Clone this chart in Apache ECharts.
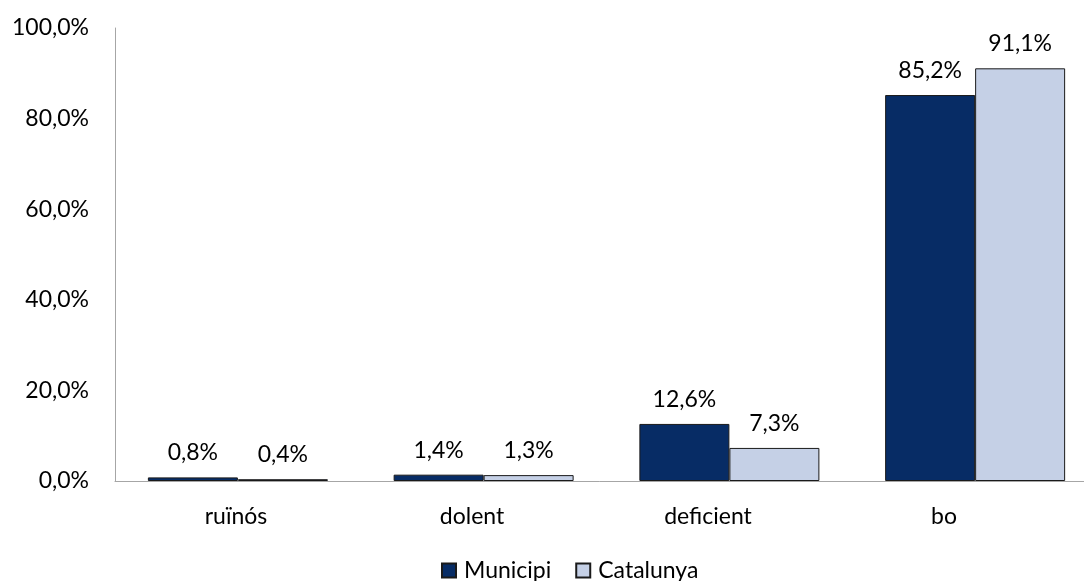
<!DOCTYPE html>
<html>
<head>
<meta charset="utf-8">
<script src="https://cdn.jsdelivr.net/npm/echarts@6/dist/echarts.min.js"></script>
<style>
  html, body { margin: 0; padding: 0; background: #ffffff; }
  #chart { width: 1084px; height: 581px; }
</style>
</head>
<body>
<div id="chart"></div>
<script>
// Estat de l'edifici: percentatge d'habitatges
const categories = ['ruïnós', 'dolent', 'deficient', 'bo'];
const municipi = [0.8, 1.4, 12.6, 85.2];
const catalunya = [0.4, 1.3, 7.3, 91.1];
const seriesNames = ['Municipi', 'Catalunya'];

const FONT = 'Lato, "Open Sans", sans-serif';
const FS = 23;
const pct = v => v.toFixed(1).replace('.', ',') + '%';

const chart = echarts.init(document.getElementById('chart'));
chart.setOption({
  animation: false,
  textStyle: { fontFamily: FONT },
  grid: [
    { left: 115, width: 983, top: 28, bottom: 100, outerBoundsMode: 'none', containLabel: false },
    { left: 118, right: 22, top: 28, bottom: 100, outerBoundsMode: 'none', containLabel: false }
  ],
  legend: {
    top: 559,
    left: 441,
    padding: 0,
    itemWidth: 14,
    itemHeight: 14,
    itemGap: 24,
    textStyle: { fontSize: FS, color: '#000', fontFamily: FONT, padding: [0, 0, 0, 3] },
    data: seriesNames.map(n => ({ name: n, icon: 'rect' }))
  },
  xAxis: [
    {
      type: 'category', gridIndex: 0, data: categories,
      axisLine: { lineStyle: { color: '#a6a6a6', width: 1 } },
      axisTick: { show: false },
      axisLabel: { show: false }
    },
    {
      type: 'category', gridIndex: 1, data: categories,
      axisLine: { show: false },
      axisTick: { show: false },
      axisLabel: { color: '#000', fontSize: FS, margin: 24, fontFamily: FONT }
    }
  ],
  yAxis: [
    {
      type: 'value', gridIndex: 0, min: 0, max: 100, interval: 20,
      axisLine: { show: true, lineStyle: { color: '#a6a6a6', width: 1 } },
      axisTick: { show: false },
      splitLine: { show: false },
      axisLabel: { color: '#000', fontSize: FS, margin: 26, formatter: pct, fontFamily: FONT }
    },
    {
      type: 'value', gridIndex: 1, min: 0, max: 100, show: false
    }
  ],
  series: [
    {
      name: seriesNames[0], type: 'bar', data: municipi,
      barWidth: 90, barGap: '0%',
      itemStyle: { color: '#072c65', borderColor: '#1a1a1a', borderWidth: 1 },
      label: { show: true, position: 'top', distance: 13, color: '#000', fontSize: FS,
               fontFamily: FONT, formatter: p => pct(p.value) }
    },
    {
      name: seriesNames[1], type: 'bar', data: catalunya,
      barWidth: 90, barGap: '0%',
      itemStyle: { color: '#c5d0e6', borderColor: '#1a1a1a', borderWidth: 1 },
      label: { show: true, position: 'top', distance: 13, color: '#000', fontSize: FS,
               fontFamily: FONT, formatter: p => pct(p.value) }
    }
  ]
});
</script>
</body>
</html>
